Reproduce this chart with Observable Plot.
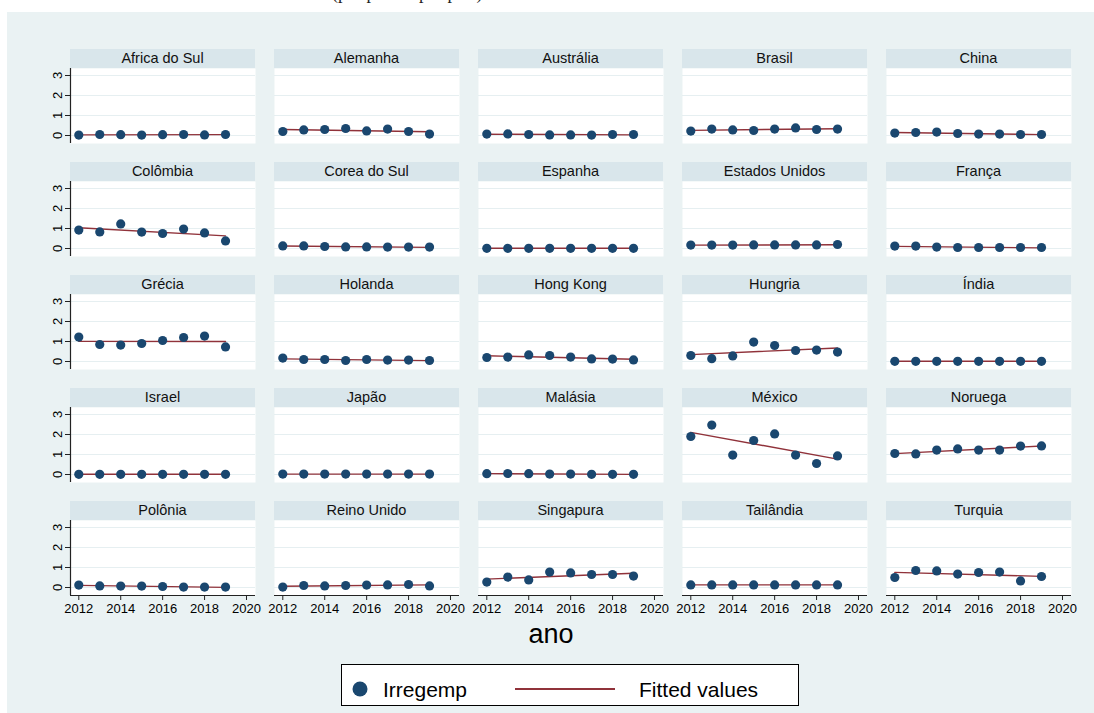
<!DOCTYPE html>
<html><head><meta charset="utf-8">
<script src="https://cdn.jsdelivr.net/npm/d3@7"></script>
<script src="https://cdn.jsdelivr.net/npm/@observablehq/plot@0.6"></script>
<style>
body{margin:0;background:#fff;}
#root{position:relative;width:1094px;height:713px;overflow:hidden;font-family:"Liberation Sans",Arial,sans-serif;}
#bg{position:absolute;left:7px;top:12px;right:0;bottom:0;background:#EAF2F3;}
.hdr{position:absolute;height:19px;line-height:19px;background:#D9E6EB;text-align:center;font-size:14.5px;color:#111;}
.pl{position:absolute;}
#ttl{position:absolute;left:0;top:0;width:1094px;height:12px;overflow:hidden;background:#fff;}
#ttl span{position:absolute;left:332px;top:-17px;font-family:"Liberation Serif",serif;font-size:18px;white-space:nowrap;color:#222;}
</style></head><body><div id="root"><div id="ttl"><span>(por pessoa por país)</span></div><div id="bg"></div></div>
<script>
const anos = [2012, 2013, 2014, 2015, 2016, 2017, 2018, 2019];
const paises = ["Africa do Sul","Alemanha","Austrália","Brasil","China",
  "Colômbia","Corea do Sul","Espanha","Estados Unidos","França",
  "Grécia","Holanda","Hong Kong","Hungria","Índia",
  "Israel","Japão","Malásia","México","Noruega",
  "Polônia","Reino Unido","Singapura","Tailândia","Turquia"];
const irregemp = [
  [0.02,0.05,0.04,0.02,0.04,0.05,0.03,0.05],
  [0.20,0.28,0.30,0.35,0.23,0.32,0.20,0.07],
  [0.07,0.08,0.05,0.03,0.03,0.02,0.05,0.05],
  [0.22,0.32,0.28,0.25,0.32,0.38,0.30,0.32],
  [0.12,0.15,0.17,0.10,0.07,0.07,0.05,0.05],
  [0.92,0.83,1.23,0.82,0.75,0.97,0.78,0.38],
  [0.13,0.13,0.10,0.08,0.08,0.07,0.07,0.07],
  [0.01,0.01,0.01,0.01,0.01,0.01,0.01,0.01],
  [0.17,0.17,0.17,0.18,0.18,0.18,0.18,0.20],
  [0.12,0.12,0.07,0.05,0.05,0.05,0.05,0.05],
  [1.22,0.85,0.82,0.90,1.05,1.20,1.27,0.73],
  [0.17,0.10,0.10,0.05,0.10,0.07,0.07,0.05],
  [0.20,0.22,0.33,0.30,0.22,0.13,0.12,0.08],
  [0.30,0.14,0.28,0.97,0.80,0.55,0.57,0.47],
  [0.01,0.01,0.01,0.01,0.01,0.01,0.01,0.01],
  [0.01,0.01,0.01,0.01,0.01,0.01,0.01,0.01],
  [0.02,0.02,0.02,0.02,0.02,0.02,0.02,0.02],
  [0.04,0.05,0.04,0.02,0.02,0.01,0.01,0.01],
  [1.90,2.47,0.97,1.70,2.03,0.97,0.55,0.93],
  [1.05,1.03,1.22,1.28,1.22,1.22,1.42,1.43],
  [0.12,0.08,0.07,0.07,0.05,0.02,0.02,0.02],
  [0.02,0.10,0.08,0.10,0.12,0.13,0.15,0.08],
  [0.27,0.52,0.38,0.77,0.73,0.65,0.65,0.57],
  [0.13,0.13,0.13,0.13,0.13,0.13,0.13,0.13],
  [0.50,0.85,0.83,0.67,0.75,0.77,0.33,0.55]
];
const xTicks = [2012, 2014, 2016, 2018, 2020];
const yTicks = [0, 1, 2, 3];
const xTitle = "ano";
const legendLabels = ["Irregemp", "Fitted values"];

const xDomain = [2011.604, 2020.43];
const yDomain = [-0.4, 3.35];
const colLeft = [70, 274, 478, 682, 886];
const rowTop = [49, 162, 275, 388, 501];
const PW = 185, PH = 75, HH = 19;
const dotColor = "#1A476F", lineColor = "#90323A", axisColor = "#222";

const root = document.getElementById("root");

paises.forEach((nome, k) => {
  const r = Math.floor(k / 5), c = k % 5;
  const hdr = document.createElement("div");
  hdr.className = "hdr";
  hdr.style.left = colLeft[c] + "px";
  hdr.style.top = rowTop[r] + "px";
  hdr.style.width = PW + "px";
  hdr.textContent = nome;
  root.appendChild(hdr);

  const ml = c === 0 ? 30 : 0;
  const mb = r === 4 ? 26 : 0;
  const data = anos.map((a, i) => ({ano: a, v: irregemp[k][i]}));
  const marks = [
    Plot.frame({fill: "white", stroke: "none"}),
    Plot.ruleY(yTicks, {stroke: "#E6EFF1", strokeWidth: 1.2}),
    Plot.linearRegressionY(data, {x: "ano", y: "v", ci: 0, stroke: lineColor, strokeWidth: 1.4}),
    Plot.dot(data, {x: "ano", y: "v", r: 4.6, fill: dotColor, stroke: "none"})
  ];
  if (c === 0) {
    marks.push(Plot.ruleX([xDomain[0]], {stroke: axisColor, strokeWidth: 1.2}));
    marks.push(Plot.axisY({ticks: yTicks, tickSize: 5, tickPadding: 4, tickRotate: -90,
      textAnchor: "middle", lineAnchor: "bottom", fontSize: 13, label: null,
      tickFormat: d => String(d), stroke: axisColor, fill: "#000"}));
  }
  if (r === 4) {
    marks.push(Plot.ruleY([yDomain[0]], {stroke: axisColor, strokeWidth: 1.2}));
    marks.push(Plot.axisX({ticks: xTicks, tickSize: 5, tickPadding: 3, fontSize: 13, label: null,
      tickFormat: d => String(d), stroke: axisColor, fill: "#000"}));
  }
  const svg = Plot.plot({
    width: PW + ml, height: PH + mb,
    marginLeft: ml, marginRight: 0, marginTop: 0, marginBottom: mb,
    x: {domain: xDomain, axis: r === 4 ? undefined : null},
    y: {domain: yDomain, axis: c === 0 ? undefined : null},
    style: {background: "transparent", fontFamily: "'Liberation Sans', Arial, sans-serif", fontSize: "13px", color: "#000", overflow: "visible"},
    marks
  });
  const wrap = document.createElement("div");
  wrap.className = "pl";
  wrap.style.left = (colLeft[c] - ml) + "px";
  wrap.style.top = (rowTop[r] + HH) + "px";
  wrap.appendChild(svg);
  root.appendChild(wrap);
});

// x title
const xt = document.createElement("div");
xt.textContent = xTitle;
Object.assign(xt.style, {position: "absolute", left: "451px", width: "200px", top: "619px", textAlign: "center", fontSize: "27px", color: "#000"});
root.appendChild(xt);

// legend
const lg = document.createElement("div");
Object.assign(lg.style, {position: "absolute", left: "341px", top: "664px", width: "456px", height: "40px", border: "1px solid #000", background: "#fff"});
root.appendChild(lg);
const lgSvg = d3.create("svg").attr("width", 456).attr("height", 40).style("position", "absolute").style("left", "0").style("top", "0");
lgSvg.append("circle").attr("cx", 18).attr("cy", 24).attr("r", 7.5).attr("fill", dotColor);
lgSvg.append("text").attr("x", 41).attr("y", 32).attr("font-size", 21).attr("fill", "#000").text(legendLabels[0]);
lgSvg.append("line").attr("x1", 173).attr("x2", 273).attr("y1", 24).attr("y2", 24).attr("stroke", lineColor).attr("stroke-width", 2);
lgSvg.append("text").attr("x", 297).attr("y", 32).attr("font-size", 21).attr("fill", "#000").text(legendLabels[1]);
lg.appendChild(lgSvg.node());
</script></body></html>
